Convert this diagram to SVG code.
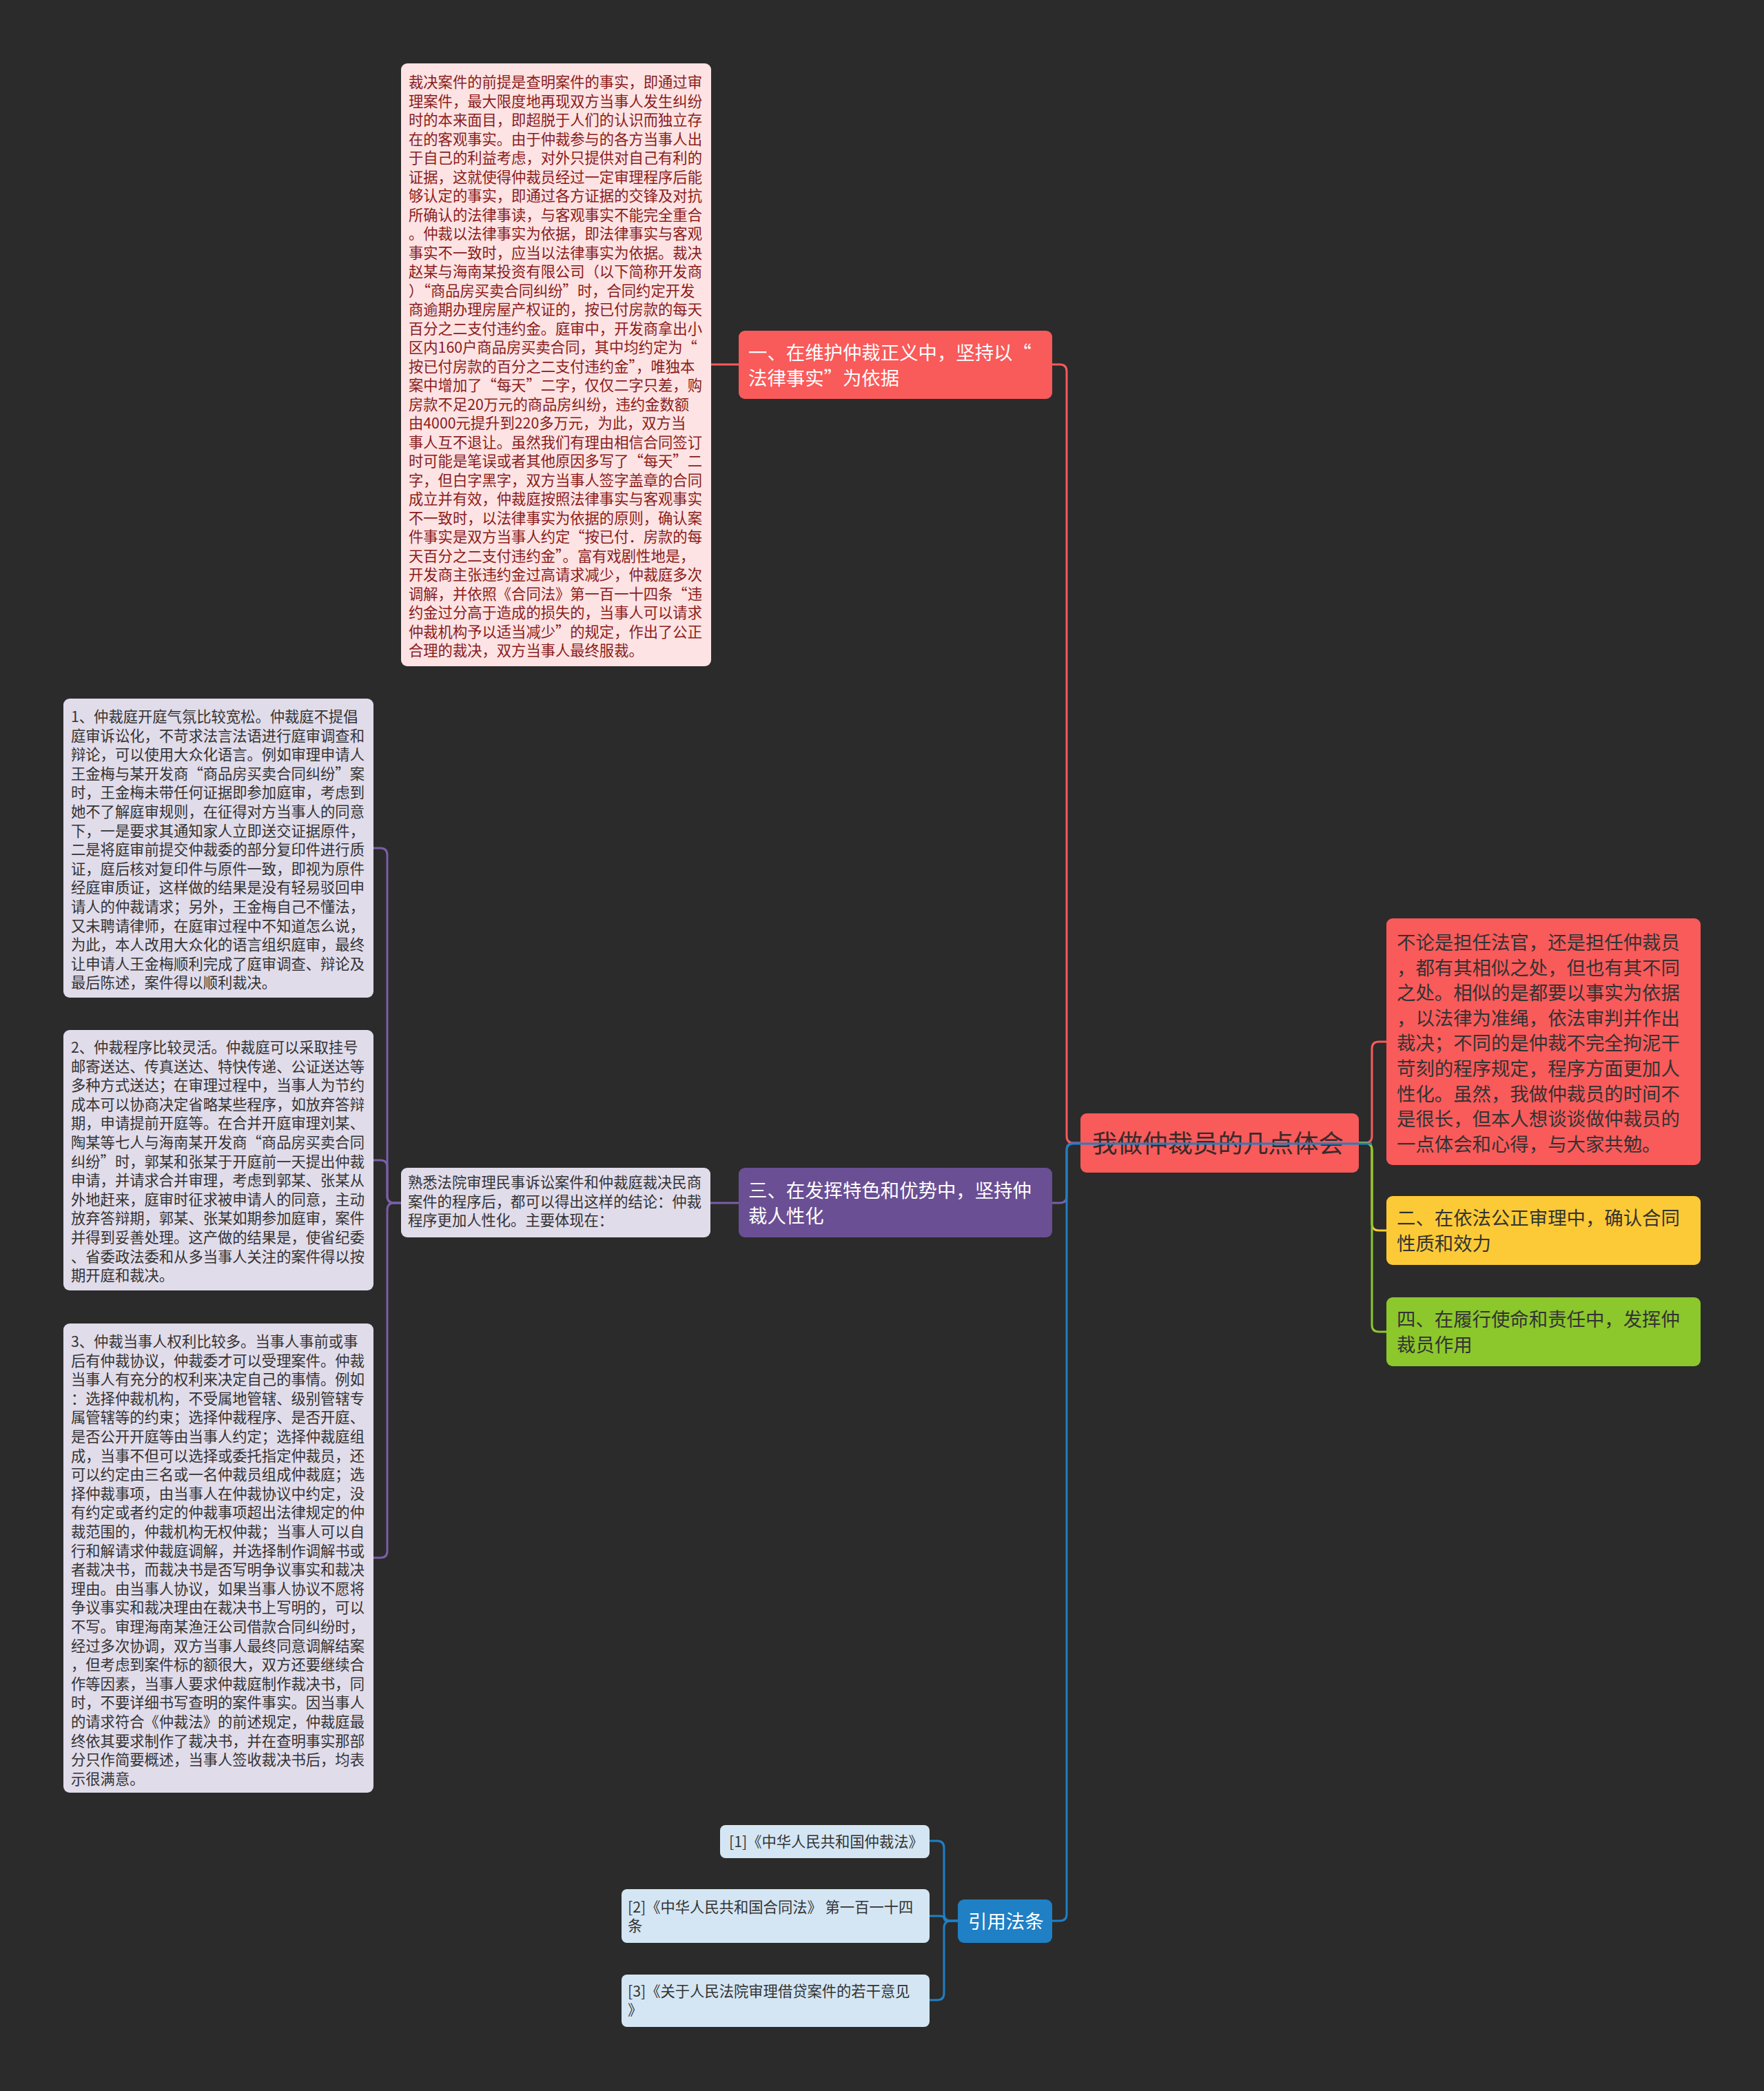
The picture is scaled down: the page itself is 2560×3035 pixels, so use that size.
<svg xmlns="http://www.w3.org/2000/svg" width="2560" height="3035" viewBox="0 0 2560 3035">
<style>
text{font-family:"Noto Sans CJK SC","Noto Sans",sans-serif;}
.s{font-size:21.3px;fill:#333;}
.m{font-size:27.4px;fill:#333;}
.w{fill:#fff;}
.dr{fill:#8a1c1c;}
.c{fill:none;stroke-width:3;}
</style>
<rect x="0" y="0" width="2560" height="3035" fill="#2b2b2b"/>

<g id="root">
<rect x="1568" y="1616" width="404" height="86" rx="9" fill="#f95a5a"/>
<text x="1585" y="1673" style="font-size:36.5px;fill:#3a2a2a">我做仲裁员的几点体会</text>
</g>

<g id="intro">
<rect x="2012" y="1333" width="456" height="358" rx="9" fill="#f95a5a"/>
<text class="m" x="2027" y="1378">
<tspan x="2027" y="1378">不论是担任法官，还是担任仲裁员</tspan>
<tspan x="2027" y="1414.6">，都有其相似之处，但也有其不同</tspan>
<tspan x="2027" y="1451.2">之处。相似的是都要以事实为依据</tspan>
<tspan x="2027" y="1487.8">，以法律为准绳，依法审判并作出</tspan>
<tspan x="2027" y="1524.4">裁决；不同的是仲裁不完全拘泥干</tspan>
<tspan x="2027" y="1561">苛刻的程序规定，程序方面更加人</tspan>
<tspan x="2027" y="1597.6">性化。虽然，我做仲裁员的时间不</tspan>
<tspan x="2027" y="1634.2">是很长，但本人想谈谈做仲裁员的</tspan>
<tspan x="2027" y="1670.8">一点体会和心得，与大家共勉。</tspan>
</text>
</g>

<g id="n2">
<rect x="2012" y="1736" width="456" height="100" rx="9" fill="#fcca36"/>
<text class="m"><tspan x="2027" y="1778">二、在依法公正审理中，确认合同</tspan><tspan x="2027" y="1815">性质和效力</tspan></text>
</g>

<g id="n4">
<rect x="2012" y="1883" width="456" height="100" rx="9" fill="#8cc72c"/>
<text class="m"><tspan x="2027" y="1925">四、在履行使命和责任中，发挥仲</tspan><tspan x="2027" y="1962">裁员作用</tspan></text>
</g>

<g id="n1">
<rect x="1072" y="480" width="455" height="99" rx="9" fill="#f95a5a"/>
<text class="m w"><tspan x="1086" y="521.5">一、在维护仲裁正义中，坚持以“</tspan><tspan x="1086" y="558.5">法律事实”为依据</tspan></text>
</g>

<g id="n1text">
<rect x="582" y="92" width="450" height="875" rx="9" fill="#fde3e3"/>
<text class="s dr">
<tspan x="593" y="127">裁决案件的前提是查明案件的事实，即通过审</tspan>
<tspan x="593" y="154.5">理案件，最大限度地再现双方当事人发生纠纷</tspan>
<tspan x="593" y="182">时的本来面目，即超脱于人们的认识而独立存</tspan>
<tspan x="593" y="209.5">在的客观事实。由于仲裁参与的各方当事人出</tspan>
<tspan x="593" y="237">于自己的利益考虑，对外只提供对自己有利的</tspan>
<tspan x="593" y="264.5">证据，这就使得仲裁员经过一定审理程序后能</tspan>
<tspan x="593" y="292">够认定的事实，即通过各方证据的交锋及对抗</tspan>
<tspan x="593" y="319.5">所确认的法律事读，与客观事实不能完全重合</tspan>
<tspan x="593" y="347">。仲裁以法律事实为依据，即法律事实与客观</tspan>
<tspan x="593" y="374.5">事实不一致时，应当以法律事实为依据。裁决</tspan>
<tspan x="593" y="402">赵某与海南某投资有限公司（以下简称开发商</tspan>
<tspan x="593" y="429.5">）“商品房买卖合同纠纷”时，合同约定开发</tspan>
<tspan x="593" y="457">商逾期办理房屋产权证的，按已付房款的每天</tspan>
<tspan x="593" y="484.5">百分之二支付违约金。庭审中，开发商拿出小</tspan>
<tspan x="593" y="512">区内160户商品房买卖合同，其中均约定为“</tspan>
<tspan x="593" y="539.5">按已付房款的百分之二支付违约金”，唯独本</tspan>
<tspan x="593" y="567">案中增加了“每天”二字，仅仅二字只差，购</tspan>
<tspan x="593" y="594.5">房款不足20万元的商品房纠纷，违约金数额</tspan>
<tspan x="593" y="622">由4000元提升到220多万元，为此，双方当</tspan>
<tspan x="593" y="649.5">事人互不退让。虽然我们有理由相信合同签订</tspan>
<tspan x="593" y="677">时可能是笔误或者其他原因多写了“每天”二</tspan>
<tspan x="593" y="704.5">字，但白字黑字，双方当事人签字盖章的合同</tspan>
<tspan x="593" y="732">成立并有效，仲裁庭按照法律事实与客观事实</tspan>
<tspan x="593" y="759.5">不一致时，以法律事实为依据的原则，确认案</tspan>
<tspan x="593" y="787">件事实是双方当事人约定“按已付．房款的每</tspan>
<tspan x="593" y="814.5">天百分之二支付违约金”。富有戏剧性地是，</tspan>
<tspan x="593" y="842">开发商主张违约金过高请求减少，仲裁庭多次</tspan>
<tspan x="593" y="869.5">调解，并依照《合同法》第一百一十四条“违</tspan>
<tspan x="593" y="897">约金过分高于造成的损失的，当事人可以请求</tspan>
<tspan x="593" y="924.5">仲裁机构予以适当减少”的规定，作出了公正</tspan>
<tspan x="593" y="952">合理的裁决，双方当事人最终服裁。</tspan>
</text>
</g>

<g id="n3">
<rect x="1072" y="1695" width="455" height="101" rx="9" fill="#6a4f94"/>
<text class="m w"><tspan x="1086" y="1738">三、在发挥特色和优势中，坚持仲</tspan><tspan x="1086" y="1775">裁人性化</tspan></text>
</g>

<g id="n3text">
<rect x="582" y="1695" width="449" height="101" rx="9" fill="#e1dcea"/>
<text class="s"><tspan x="592" y="1724">熟悉法院审理民事诉讼案件和仲裁庭裁决民商</tspan><tspan x="592" y="1751.5">案件的程序后，都可以得出这样的结论：仲裁</tspan><tspan x="592" y="1779">程序更加人性化。主要体现在：</tspan></text>
</g>

<g id="p1">
<rect x="92" y="1014" width="450" height="434" rx="9" fill="#e1dcea"/>
<text class="s">
<tspan x="103" y="1048">1、仲裁庭开庭气氛比较宽松。仲裁庭不提倡</tspan>
<tspan x="103" y="1075.6">庭审诉讼化，不苛求法言法语进行庭审调查和</tspan>
<tspan x="103" y="1103.2">辩论，可以使用大众化语言。例如审理申请人</tspan>
<tspan x="103" y="1130.8">王金梅与某开发商“商品房买卖合同纠纷”案</tspan>
<tspan x="103" y="1158.4">时，王金梅未带任何证据即参加庭审，考虑到</tspan>
<tspan x="103" y="1186">她不了解庭审规则，在征得对方当事人的同意</tspan>
<tspan x="103" y="1213.6">下，一是要求其通知家人立即送交证据原件，</tspan>
<tspan x="103" y="1241.2">二是将庭审前提交仲裁委的部分复印件进行质</tspan>
<tspan x="103" y="1268.8">证，庭后核对复印件与原件一致，即视为原件</tspan>
<tspan x="103" y="1296.4">经庭审质证，这样做的结果是没有轻易驳回申</tspan>
<tspan x="103" y="1324">请人的仲裁请求；另外，王金梅自己不懂法，</tspan>
<tspan x="103" y="1351.6">又未聘请律师，在庭审过程中不知道怎么说，</tspan>
<tspan x="103" y="1379.2">为此，本人改用大众化的语言组织庭审，最终</tspan>
<tspan x="103" y="1406.8">让申请人王金梅顺利完成了庭审调查、辩论及</tspan>
<tspan x="103" y="1434.4">最后陈述，案件得以顺利裁决。</tspan>
</text>
</g>

<g id="p2">
<rect x="92" y="1495" width="450" height="378" rx="9" fill="#e1dcea"/>
<text class="s">
<tspan x="103" y="1528">2、仲裁程序比较灵活。仲裁庭可以采取挂号</tspan>
<tspan x="103" y="1555.6">邮寄送达、传真送达、特快传递、公证送达等</tspan>
<tspan x="103" y="1583.2">多种方式送达；在审理过程中，当事人为节约</tspan>
<tspan x="103" y="1610.8">成本可以协商决定省略某些程序，如放弃答辩</tspan>
<tspan x="103" y="1638.4">期，申请提前开庭等。在合并开庭审理刘某、</tspan>
<tspan x="103" y="1666">陶某等七人与海南某开发商“商品房买卖合同</tspan>
<tspan x="103" y="1693.6">纠纷”时，郭某和张某于开庭前一天提出仲裁</tspan>
<tspan x="103" y="1721.2">申请，并请求合并审理，考虑到郭某、张某从</tspan>
<tspan x="103" y="1748.8">外地赶来，庭审时征求被申请人的同意，主动</tspan>
<tspan x="103" y="1776.4">放弃答辩期，郭某、张某如期参加庭审，案件</tspan>
<tspan x="103" y="1804">并得到妥善处理。这产做的结果是，使省纪委</tspan>
<tspan x="103" y="1831.6">、省委政法委和从多当事人关注的案件得以按</tspan>
<tspan x="103" y="1859.2">期开庭和裁决。</tspan>
</text>
</g>

<g id="p3">
<rect x="92" y="1921" width="450" height="681" rx="9" fill="#e1dcea"/>
<text class="s">
<tspan x="103" y="1955">3、仲裁当事人权利比较多。当事人事前或事</tspan>
<tspan x="103" y="1982.6">后有仲裁协议，仲裁委才可以受理案件。仲裁</tspan>
<tspan x="103" y="2010.2">当事人有充分的权利来决定自己的事情。例如</tspan>
<tspan x="103" y="2037.8">：选择仲裁机构，不受属地管辖、级别管辖专</tspan>
<tspan x="103" y="2065.4">属管辖等的约束；选择仲裁程序、是否开庭、</tspan>
<tspan x="103" y="2093">是否公开开庭等由当事人约定；选择仲裁庭组</tspan>
<tspan x="103" y="2120.6">成，当事不但可以选择或委托指定仲裁员，还</tspan>
<tspan x="103" y="2148.2">可以约定由三名或一名仲裁员组成仲裁庭；选</tspan>
<tspan x="103" y="2175.8">择仲裁事项，由当事人在仲裁协议中约定，没</tspan>
<tspan x="103" y="2203.4">有约定或者约定的仲裁事项超出法律规定的仲</tspan>
<tspan x="103" y="2231">裁范围的，仲裁机构无权仲裁；当事人可以自</tspan>
<tspan x="103" y="2258.6">行和解请求仲裁庭调解，并选择制作调解书或</tspan>
<tspan x="103" y="2286.2">者裁决书，而裁决书是否写明争议事实和裁决</tspan>
<tspan x="103" y="2313.8">理由。由当事人协议，如果当事人协议不愿将</tspan>
<tspan x="103" y="2341.4">争议事实和裁决理由在裁决书上写明的，可以</tspan>
<tspan x="103" y="2369">不写。审理海南某渔汪公司借款合同纠纷时，</tspan>
<tspan x="103" y="2396.6">经过多次协调，双方当事人最终同意调解结案</tspan>
<tspan x="103" y="2424.2">，但考虑到案件标的额很大，双方还要继续合</tspan>
<tspan x="103" y="2451.8">作等因素，当事人要求仲裁庭制作裁决书，同</tspan>
<tspan x="103" y="2479.4">时，不要详细书写查明的案件事实。因当事人</tspan>
<tspan x="103" y="2507">的请求符合《仲裁法》的前述规定，仲裁庭最</tspan>
<tspan x="103" y="2534.6">终依其要求制作了裁决书，并在查明事实那部</tspan>
<tspan x="103" y="2562.2">分只作简要概述，当事人签收裁决书后，均表</tspan>
<tspan x="103" y="2589.8">示很满意。</tspan>
</text>
</g>

<g id="cite">
<rect x="1390" y="2757" width="137" height="63" rx="9" fill="#1f80c5"/>
<text class="m w" x="1405" y="2798.5">引用法条</text>
</g>
<g id="cite1">
<rect x="1045" y="2649" width="304" height="48" rx="8" fill="#d4e6f3"/>
<text class="s" x="1058" y="2680.5">[1]《中华人民共和国仲裁法》</text>
</g>
<g id="cite2">
<rect x="902" y="2742" width="447" height="78" rx="8" fill="#d4e6f3"/>
<text class="s"><tspan x="911" y="2776">[2]《中华人民共和国合同法》 第一百一十四</tspan><tspan x="911" y="2803">条</tspan></text>
</g>
<g id="cite3">
<rect x="902" y="2866" width="447" height="76" rx="8" fill="#d4e6f3"/>
<text class="s"><tspan x="911" y="2898">[3]《关于人民法院审理借贷案件的若干意见</tspan><tspan x="911" y="2925">》</tspan></text>
</g>

<g id="connectors">
<path class="c" stroke="#f95a5a" d="M1568,1659 H1558 Q1548,1659 1548,1649 V539 Q1548,529 1538,529 H1527"/>
<path class="c" stroke="#f95a5a" d="M1072,529 H1032"/>
<path class="c" stroke="#7a5fa8" d="M1568,1659 H1558 Q1548,1659 1548,1669 V1736 Q1548,1746 1538,1746 H1527"/>
<path class="c" stroke="#7a5fa8" d="M1072,1746 H1031"/>
<path class="c" stroke="#7a5fa8" d="M582,1746 H572 Q562,1746 562,1736 V1241 Q562,1231 552,1231 H542"/>
<path class="c" stroke="#7a5fa8" d="M582,1746 H572 Q562,1746 562,1736 V1694 Q562,1684 552,1684 H542"/>
<path class="c" stroke="#7a5fa8" d="M582,1746 H572 Q562,1746 562,1756 V2251 Q562,2261 552,2261 H542"/>
<path class="c" stroke="#f95a5a" d="M1972,1659 H1981 Q1991,1659 1991,1649 V1522 Q1991,1512 2001,1512 H2012"/>
<path class="c" stroke="#fcca36" d="M1972,1659 H1981 Q1991,1659 1991,1669 V1776 Q1991,1786 2001,1786 H2012"/>
<path class="c" stroke="#8cc72c" d="M1972,1659 H1981 Q1991,1659 1991,1669 V1923 Q1991,1933 2001,1933 H2012"/>
<path class="c" stroke="#1f80c5" d="M1991,1660 H1558 Q1548,1660 1548,1670 V2778 Q1548,2788 1538,2788 H1527"/>
<path class="c" stroke="#1f80c5" d="M1390,2788 H1380 Q1370,2788 1370,2778 V2682 Q1370,2672 1360,2672 H1349"/>
<path class="c" stroke="#1f80c5" d="M1390,2788 H1376 Q1370,2788 1370,2784 Q1370,2781 1364,2781 H1349"/>
<path class="c" stroke="#1f80c5" d="M1390,2788 H1380 Q1370,2788 1370,2798 V2893 Q1370,2903 1360,2903 H1349"/>
</g>
</svg>
